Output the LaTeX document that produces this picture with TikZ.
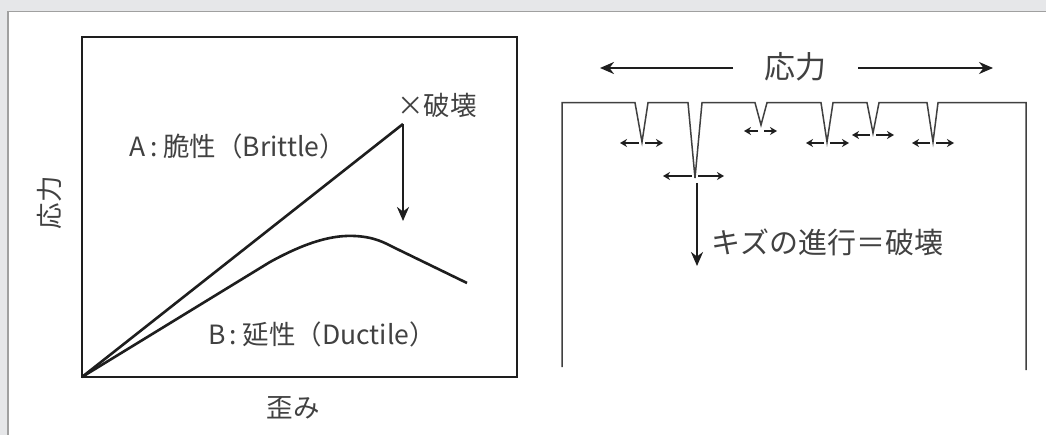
\documentclass[tikz,border=0pt]{standalone}
\usepackage{fontspec}
\newfontfamily\jp{Noto Sans CJK JP}
\usetikzlibrary{arrows.meta}
\definecolor{bgg}{RGB}{230,231,233}
\definecolor{frameg}{RGB}{160,160,160}
\definecolor{ink}{RGB}{30,30,30}
\definecolor{txtc}{RGB}{65,65,65}
\begin{document}
\begin{tikzpicture}[x=1pt,y=-1pt,
  lbl/.style={font=\jp\fontsize{26.5}{30}\selectfont, text=txtc, inner sep=0pt},
  biglbl/.style={font=\jp\fontsize{31}{34}\selectfont, text=txtc, inner sep=0pt},
  crv/.style={line width=2.6pt, draw=ink, line join=round},
  bigarrow/.style={line width=2.4pt, draw=ink, -{Stealth[length=14pt,width=12pt]}},
  smallarrow/.style={line width=2.3pt, draw=ink, -{Stealth[length=7pt,width=8pt]}},
  outline/.style={line width=1.5pt, draw=ink!85, line join=miter}]
\useasboundingbox (0,0) rectangle (1046,435);
\begin{scope}
\clip (0,0) rectangle (1046,435);
\fill[bgg] (0,0) rectangle (1046,435);
\filldraw[fill=white, draw=frameg, line width=1.5pt] (8,11.5) rectangle (1060,450);
\end{scope}

% ---- left graph ----
\draw[line width=1.3pt, draw=ink] (82,37) rectangle (517,377);
\coordinate (O) at (82,377);
\coordinate (F) at (403,124);
\coordinate (Fend) at (403,221);
\draw[crv] (O) -- (F);
\draw[bigarrow] (F) -- (Fend);
\draw[crv] (O) -- (270,262) .. controls (310,240) and (335,235) .. (355,236)
  .. controls (375,237) and (385,243) .. (395,248) -- (467,283);
\node[lbl] (brk) at (437,105) {×破壊};
\node[lbl] (A) at (238,146) {A\kern4pt:\kern6pt脆性（Brittle）};
\node[lbl] (B) at (322,334) {B\kern4pt:\kern6pt延性（Ductile）};
\node[lbl, rotate=90] (ylab) at (49,203) {応力};
\node[lbl] (xlab) at (293,408) {歪み};

% ---- right specimen ----
\node[biglbl] (stress) at (795,67) {応力};
\coordinate (la1) at (733,68);
\coordinate (la2) at (600,68);
\coordinate (ra1) at (858,68);
\coordinate (ra2) at (993,68);
\draw[line width=2pt, draw=ink, -{Stealth[length=14pt,width=12pt]}] (la1) -- (la2);
\draw[line width=2pt, draw=ink, -{Stealth[length=14pt,width=12pt]}] (ra1) -- (ra2);

\draw[outline] (562,367) -- (562,102.7) -- (635,102.7) -- (642,142) -- (648,102.7)
  -- (688,102.7) -- (695,178) -- (702,102.7) -- (755,102.7) -- (761,125) -- (767,102.7)
  -- (821,102.7) -- (827,142) -- (833,102.7) -- (867,102.7) -- (873,133) -- (879,102.7)
  -- (927,102.7) -- (933,142) -- (938,102.7) -- (1026,102.7) -- (1026,370);

\foreach \i/\x/\y/\l/\r in {1/642/143/620/663, 2/695/176/663/724, 3/761/131/744/777,
  4/827/143/806/849, 5/873/135/852/894, 6/933/143/912/954} {
  \coordinate (n\i l0) at (\x-3,\y);
  \coordinate (n\i l1) at (\l,\y);
  \coordinate (n\i r0) at (\x+3,\y);
  \coordinate (n\i r1) at (\r,\y);
  \draw[smallarrow] (n\i l0) -- (n\i l1);
  \draw[smallarrow] (n\i r0) -- (n\i r1);
}
\coordinate (c0) at (697,183);
\coordinate (c1) at (697,266);
\draw[bigarrow] (c0) -- (c1);
\node[font=\jp\fontsize{29}{32}\selectfont, text=txtc, inner sep=0pt, anchor=west] (crack) at (711,242) {キズの進行＝破壊};
\end{tikzpicture}
\end{document}
